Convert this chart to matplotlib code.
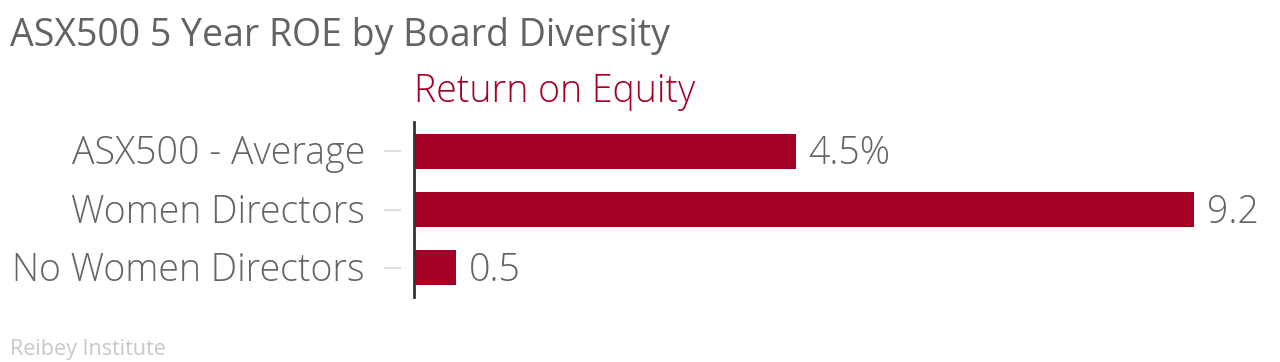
import matplotlib
matplotlib.use('Agg')
import matplotlib.pyplot as plt
import matplotlib.transforms as mtransforms

categories = ['ASX500 - Average', 'Women Directors', 'No Women Directors']
roe = [4.5, 9.2, 0.5]
value_labels = ['4.5%', '9.2', '0.5']

bar_color = '#a50026'
text_grey = '#646464'

plt.rcParams['font.family'] = ['Open Sans', 'DejaVu Sans']

W, H = 1280, 362
fig = plt.figure(figsize=(W / 100, H / 100), dpi=100)
ax = fig.add_axes([414 / W, 65 / H, 848 / W, 175 / H])

pos = list(range(len(categories)))
ax.barh(pos, roe, height=0.6, color=bar_color, zorder=2)
ax.set_ylim(2.5, -0.5)
ax.set_xlim(0, 10)

for p, v, lab in zip(pos, roe, value_labels):
    ax.annotate(lab, (v, p), xytext=(9, -2), textcoords='offset points',
                va='center', ha='left', fontsize=27, color=text_grey,
                fontweight='light', clip_on=False)

# category labels and short grey dashes left of the axis
trans = mtransforms.blended_transform_factory(ax.transAxes, ax.transData)
shift = mtransforms.ScaledTranslation(0, -2 / 72, fig.dpi_scale_trans)
for p, name in zip(pos, categories):
    ax.plot([-29 / 848, -14 / 848], [p, p], transform=trans, color='#dddddd',
            lw=1.5, clip_on=False)
    ax.text(-49 / 848, p, name, transform=trans + shift, ha='right',
            va='center', fontsize=27, color=text_grey, fontweight='light')

ax.set_yticks([])
ax.set_xticks([])
for s in ['top', 'right', 'bottom']:
    ax.spines[s].set_visible(False)
ax.spines['left'].set_color('#333333')
ax.spines['left'].set_linewidth(2)

fig.text(10 / W, 1 - 36 / H, 'ASX500 5 Year ROE by Board Diversity',
         fontsize=27, color='#636363', ha='left', va='center')
fig.text(414 / W, 1 - 92 / H, 'Return on Equity', fontsize=27,
         color=bar_color, ha='left', va='center', fontweight='light')
fig.text(10 / W, 1 - 350 / H, 'Reibey Institute', fontsize=15.5,
         color='#c8c8c8', ha='left', va='center')

fig.savefig('out.png', dpi=100)
